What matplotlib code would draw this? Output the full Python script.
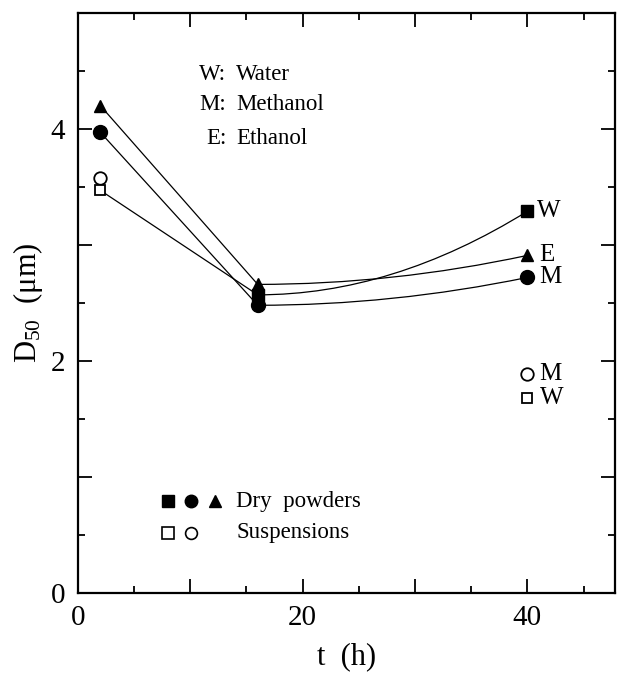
import matplotlib
matplotlib.use('Agg')
import matplotlib.pyplot as plt
from matplotlib.path import Path
from matplotlib.patches import PathPatch
from matplotlib.ticker import MultipleLocator, FixedFormatter, FixedLocator

plt.rcParams['font.family'] = ['Liberation Serif', 'DejaVu Serif']
plt.rcParams['mathtext.fontset'] = 'custom'
plt.rcParams['mathtext.rm'] = 'Liberation Serif'
plt.rcParams['mathtext.it'] = 'Liberation Serif:italic'

# Daten
t = [2, 16, 40]
water_dry = [3.47, 2.57, 3.29]
methanol_dry = [3.97, 2.48, 2.72]
ethanol_dry = [4.20, 2.66, 2.91]

t_susp = [2, 40]
water_susp = [3.47, 1.68]
methanol_susp = [3.58, 1.89]

fig = plt.figure(figsize=(6.17, 6.75), dpi=100)
ax = fig.add_axes([0.1264, 0.1215, 0.8703, 0.8593])


def kurve(ax, x, y):
    # erstes Stueck gerade, zweites als Bezier mit flachem Start
    xm = (x[1] + x[2]) / 2
    verts = [(x[0], y[0]), (x[1], y[1]), (xm, y[1]), (x[2], y[2])]
    codes = [Path.MOVETO, Path.LINETO, Path.CURVE3, Path.CURVE3]
    ax.add_patch(PathPatch(Path(verts, codes), fill=False, lw=0.9, ec='k', zorder=2))


for y in [water_dry, methanol_dry, ethanol_dry]:
    kurve(ax, t, y)

# gefuellte Symbole (Trockenpulver)
ax.plot(t[1:], water_dry[1:], 's', color='k', ms=8, zorder=3)
ax.plot(t, methanol_dry, 'o', color='k', ms=10, zorder=3)
ax.plot(t, ethanol_dry, '^', color='k', ms=9, zorder=3)

# offene Symbole (Suspensionen)
ax.plot(t_susp, methanol_susp, 'o', mfc='white', mec='k', mew=1.3, ms=9, zorder=3)
ax.plot(t_susp, water_susp, 's', mfc='white', mec='k', mew=1.3, ms=7.5, zorder=4)

# Beschriftungen rechts
fs = 18
ax.text(40.9, water_dry[2], 'W', fontsize=fs, va='center', ha='left')
ax.text(41.1, ethanol_dry[2], 'E', fontsize=fs, va='center', ha='left')
ax.text(41.1, methanol_dry[2], 'M', fontsize=fs, va='center', ha='left')
ax.text(41.1, methanol_susp[1], 'M', fontsize=fs, va='center', ha='left')
ax.text(41.1, water_susp[1], 'W', fontsize=fs, va='center', ha='left')

# Erklaerung oben
fs2 = 16.5
for lab, name, yy in [('W:', 'Water', 4.47), ('M:', 'Methanol', 4.21), ('E:', 'Ethanol', 3.92)]:
    ax.text(13.2, yy, lab, fontsize=fs2, va='center', ha='right')
    ax.text(14.1, yy, name, fontsize=fs2, va='center', ha='left')

# Legende unten
ax.plot([8.0], [0.79], 's', color='k', ms=8)
ax.plot([10.1], [0.79], 'o', color='k', ms=9)
ax.plot([12.2], [0.79], '^', color='k', ms=8)
ax.plot([8.0], [0.52], 's', mfc='white', mec='k', mew=1.2, ms=8)
ax.plot([10.1], [0.52], 'o', mfc='white', mec='k', mew=1.2, ms=8.5)
ax.text(14.1, 0.79, 'Dry  powders', fontsize=fs2, va='center', ha='left')
ax.text(14.1, 0.52, 'Suspensions', fontsize=fs2, va='center', ha='left')

ax.set_xlim(0, 47.8)
ax.set_ylim(0, 5)

ax.xaxis.set_major_locator(FixedLocator([0, 10, 20, 30, 40]))
ax.xaxis.set_major_formatter(FixedFormatter(['0', '', '20', '', '40']))
ax.xaxis.set_minor_locator(MultipleLocator(5))
ax.yaxis.set_major_locator(FixedLocator([0, 1, 2, 3, 4]))
ax.yaxis.set_major_formatter(FixedFormatter(['0', '', '2', '', '4']))
ax.yaxis.set_minor_locator(MultipleLocator(0.5))

ax.tick_params(which='both', direction='in', top=True, right=True, width=1.3,
               labelsize=21, pad=9)
ax.tick_params(which='major', length=10)
ax.tick_params(which='minor', length=5)
for s in ax.spines.values():
    s.set_linewidth(1.6)

ax.set_xlabel('t  (h)', fontsize=22, labelpad=8)
ax.set_ylabel(r'$\mathrm{D}_{50}$  (μm)', fontsize=22, labelpad=4)

fig.savefig('out.png', dpi=100)
